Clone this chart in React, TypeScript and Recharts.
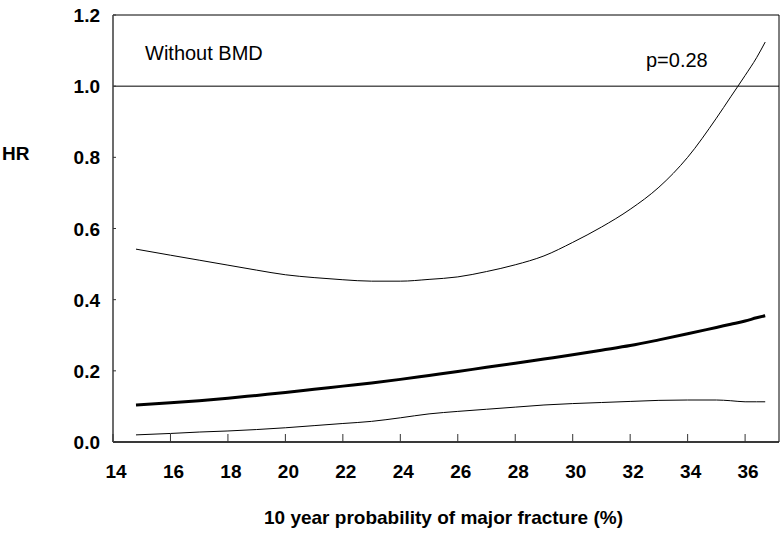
import React from 'react';
import { LineChart, Line, XAxis, YAxis, ReferenceLine, ReferenceArea, Customized } from 'recharts';

const xValues = [14.8, 16, 17, 18, 19, 20, 21, 22, 23, 24, 25, 26, 27, 28, 29, 30, 31, 32, 33, 34, 35, 35.5, 36, 36.4, 36.7];
const upperCI = [0.542, 0.525, 0.511, 0.497, 0.483, 0.470, 0.462, 0.456, 0.452, 0.452, 0.457, 0.464, 0.479, 0.498, 0.523, 0.561, 0.604, 0.654, 0.716, 0.800, 0.910, 0.970, 1.030, 1.080, 1.124];
const hrValues = [0.104, 0.110, 0.116, 0.123, 0.131, 0.139, 0.148, 0.157, 0.166, 0.176, 0.187, 0.198, 0.210, 0.221, 0.233, 0.245, 0.258, 0.271, 0.287, 0.304, 0.322, 0.331, 0.340, 0.349, 0.355];
const lowerCI = [0.020, 0.024, 0.028, 0.031, 0.035, 0.040, 0.046, 0.052, 0.058, 0.068, 0.079, 0.086, 0.092, 0.098, 0.104, 0.108, 0.111, 0.114, 0.117, 0.118, 0.118, 0.116, 0.113, 0.113, 0.113];
const xTicks = [14, 16, 18, 20, 22, 24, 26, 28, 30, 32, 34, 36];
const yTicks = [0, 0.2, 0.4, 0.6, 0.8, 1.0, 1.2];

const data = xValues.map((x, i) => ({ x, upper: upperCI[i], hr: hrValues[i], lower: lowerCI[i] }));

const FONT = '"Liberation Sans", Arial, Helvetica, sans-serif';

const YTick = (props: any) => {
  const { x, y, payload } = props;
  return (
    <g>
      <line x1={x} x2={x + 3} y1={y} y2={y} stroke="#333" strokeWidth={1} />
      <text x={x - 13} y={y + 7} textAnchor="end" fontFamily={FONT} fontWeight="bold" fontSize={19} fill="#000">
        {Number(payload.value).toFixed(1)}
      </text>
    </g>
  );
};

const XTick = (props: any) => {
  const { x, y, payload } = props;
  return (
    <g>
      <line x1={x} x2={x} y1={y} y2={y - 8} stroke="#333" strokeWidth={1} />
      <text x={x + 3} y={y + 36} textAnchor="middle" fontFamily={FONT} fontWeight="bold" fontSize={19} fill="#000">
        {payload.value}
      </text>
    </g>
  );
};

const Texts = () => (
  <g fontFamily={FONT} fill="#000">
    <text x={2} y={160} fontWeight="bold" fontSize={19}>HR</text>
    <text x={145} y={60} fontSize={20}>Without BMD</text>
    <text x={646} y={66.5} fontSize={20}>p=0.28</text>
    <text x={443.5} y={523.5} textAnchor="middle" fontWeight="bold" fontSize={19}>10 year probability of major fracture (%)</text>
  </g>
);

export default function App() {
  return (
    <div style={{ position: 'absolute', left: 0, top: 0, background: '#fff' }}>
      <LineChart width={780} height={538} data={data} margin={{ top: 15, right: 1, left: 0, bottom: 0 }}>
        <ReferenceArea x1={14} x2={37.18} y1={0} y2={1.2} fill="none" stroke="#000" strokeWidth={1} ifOverflow="extendDomain" />
        <XAxis
          type="number"
          dataKey="x"
          domain={[14, 37.18]}
          ticks={xTicks}
          allowDataOverflow
          height={96}
          tickSize={0}
          tickMargin={0}
          tickLine={false}
          tick={<XTick />}
          axisLine={{ stroke: '#222', strokeWidth: 1.5 }}
          interval={0}
        />
        <YAxis
          type="number"
          domain={[0, 1.2]}
          ticks={yTicks}
          allowDataOverflow
          width={113}
          tickSize={0}
          tickMargin={0}
          tickLine={false}
          tick={<YTick />}
          axisLine={{ stroke: '#666', strokeWidth: 1.5 }}
          interval={0}
        />
        <ReferenceLine y={1.0} stroke="#000" strokeWidth={1} />
        <Line type="monotone" dataKey="upper" stroke="#000" strokeWidth={1} dot={false} isAnimationActive={false} />
        <Line type="monotone" dataKey="hr" stroke="#000" strokeWidth={3} dot={false} isAnimationActive={false} />
        <Line type="monotone" dataKey="lower" stroke="#000" strokeWidth={1} dot={false} isAnimationActive={false} />
        <Customized component={Texts} />
      </LineChart>
    </div>
  );
}
